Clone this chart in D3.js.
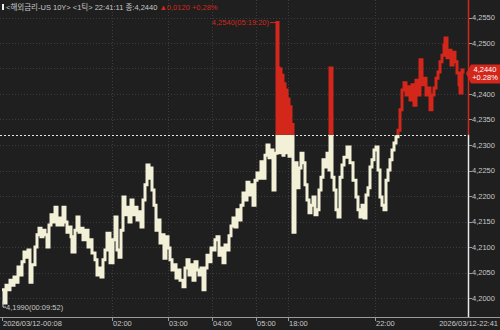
<!DOCTYPE html>
<html>
<head>
<meta charset="utf-8">
<script src="https://cdn.jsdelivr.net/npm/d3@7"></script>
<style>
  html, body { margin: 0; padding: 0; background: #1f1f1f; }
  svg { display: block; font-family: "Liberation Sans", "Noto Sans CJK KR", sans-serif; }
</style>
</head>
<body>
<div id="chart"></div>
<script>
// US 10Y yield, 1-tick chart (bar index along an index-based time axis)
const bars = [
  0, 2, 4, 6, 8, 10, 12, 14, 16, 18, 20, 22, 24, 26, 28, 30, 33, 35, 37, 39,
  41, 43, 45, 47, 49, 51, 53, 55, 57, 59, 61, 63, 65, 67, 69, 70, 73, 75, 77, 79,
  81, 83, 86, 88, 90, 93, 95, 97, 99, 101, 103, 105, 108, 111, 113, 115, 117, 119, 121, 123,
  125, 127, 129, 131, 133, 135, 137, 139, 141, 143, 145, 147, 149, 150, 152, 154, 156, 158, 160, 162,
  164, 166, 168, 170, 172, 174, 176, 178, 181, 183, 185, 187, 189, 191, 193, 195, 197, 199, 201, 203,
  205, 207, 209, 211, 213, 215, 217, 219, 221, 223, 225, 227, 229, 231, 233, 235, 237, 239, 241, 243,
  245, 247, 249, 251, 253, 255, 257, 259, 261, 263, 265, 267, 269, 271, 273, 275, 276, 277, 278, 279,
  280, 281, 282, 283, 284, 285, 286, 287, 288, 289, 290, 291, 293, 295, 297, 299, 301, 303, 305, 307,
  309, 311, 313, 315, 317, 319, 321, 323, 325, 327, 328, 330, 332, 334, 336, 338, 340, 342, 345, 348,
  351, 354, 356, 358, 360, 362, 364, 366, 368, 370, 372, 374, 376, 378, 380, 382, 384, 386, 388, 390,
  392, 394, 396, 398, 400, 402, 404, 406, 408, 410, 412, 414, 416, 418, 420, 422, 424, 426, 428, 430,
  432, 434, 436, 438, 440, 442, 443, 445, 447, 449, 451, 453, 455, 457, 458, 460, 461
];
const prices = [
  4.2016, 4.1990, 4.2025, 4.2016, 4.2035, 4.2025, 4.2041, 4.2031, 4.2061, 4.2045, 4.2071, 4.2090, 4.2080, 4.2094, 4.2031, 4.2065, 4.2100, 4.2124, 4.2137, 4.2120,
  4.2133, 4.2124, 4.2100, 4.2143, 4.2163, 4.2149, 4.2178, 4.2143, 4.2157, 4.2143, 4.2178, 4.2149, 4.2129, 4.2139, 4.2120, 4.2090, 4.2133, 4.2159, 4.2129, 4.2137,
  4.2114, 4.2133, 4.2100, 4.2114, 4.2088, 4.2075, 4.2045, 4.2059, 4.2041, 4.2075, 4.2094, 4.2127, 4.2069, 4.2114, 4.2159, 4.2094, 4.2080, 4.2133, 4.2198, 4.2163,
  4.2178, 4.2149, 4.2192, 4.2163, 4.2178, 4.2153, 4.2169, 4.2139, 4.2192, 4.2222, 4.2261, 4.2235, 4.2255, 4.2212, 4.2182, 4.2133, 4.2153, 4.2108, 4.2124, 4.2078,
  4.2120, 4.2098, 4.2075, 4.2055, 4.2065, 4.2039, 4.2055, 4.2035, 4.2022, 4.2059, 4.2075, 4.2045, 4.2065, 4.2035, 4.2071, 4.2055, 4.2045, 4.2059, 4.2016, 4.2059,
  4.2084, 4.2071, 4.2098, 4.2094, 4.2114, 4.2120, 4.2084, 4.2098, 4.2069, 4.2104, 4.2094, 4.2122, 4.2141, 4.2157, 4.2139, 4.2173, 4.2153, 4.2182, 4.2206, 4.2192,
  4.2227, 4.2202, 4.2222, 4.2182, 4.2231, 4.2245, 4.2235, 4.2267, 4.2235, 4.2280, 4.2300, 4.2275, 4.2290, 4.2212, 4.2284, 4.2540, 4.2451, 4.2285, 4.2449, 4.2290,
  4.2437, 4.2280, 4.2420, 4.2290, 4.2408, 4.2285, 4.2390, 4.2278, 4.2375, 4.2290, 4.2340, 4.2129, 4.2265, 4.2216, 4.2255, 4.2284, 4.2265, 4.2222, 4.2192, 4.2167,
  4.2182, 4.2198, 4.2163, 4.2173, 4.2212, 4.2237, 4.2271, 4.2257, 4.2284, 4.2251, 4.2451, 4.2237, 4.2212, 4.2173, 4.2159, 4.2237, 4.2261, 4.2276, 4.2296, 4.2265,
  4.2231, 4.2198, 4.2173, 4.2159, 4.2182, 4.2157, 4.2202, 4.2216, 4.2257, 4.2271, 4.2290, 4.2296, 4.2251, 4.2198, 4.2182, 4.2173, 4.2231, 4.2251, 4.2271, 4.2290,
  4.2304, 4.2316, 4.2329, 4.2369, 4.2408, 4.2422, 4.2398, 4.2414, 4.2388, 4.2418, 4.2378, 4.2427, 4.2398, 4.2467, 4.2418, 4.2431, 4.2398, 4.2412, 4.2369, 4.2398,
  4.2412, 4.2431, 4.2443, 4.2463, 4.2476, 4.2496, 4.2510, 4.2471, 4.2486, 4.2457, 4.2482, 4.2463, 4.2441, 4.2418, 4.2402, 4.2447, 4.2440
];

const prevClose = 4.2320;
const lastPrice = 4.2440;
const yTicks = [4.2000, 4.2050, 4.2100, 4.2150, 4.2200, 4.2250, 4.2300, 4.2350, 4.2400, 4.2450, 4.2500, 4.2550];
const xTickBars = [0, 110, 166, 210, 254, 286, 373];
const xTickLabels = ["2026/03/12-00:08", "02:00", "03:00", "04:00", "05:00", "18:00", "22:00"];
const lastTimeLabel = "2026/03/12-22:41";
const highLabel = "4,2540(05:19:20)";
const lowLabel = "4,1990(00:09:52)";

const W = 500, H = 330;
const axisX = 468, axisY = 317;
const RED = "#d3271c", CREAM = "#f3f0d8", TXT = "#c8c8c8";
const fmt = v => d3.format(".4f")(v).replace(".", ",");

const svg = d3.select("#chart").append("svg")
  .attr("width", W).attr("height", H);

svg.append("rect").attr("width", W).attr("height", H).attr("fill", "#1f1f1f");

const x = d3.scaleLinear().domain([0, 461]).range([2, 463]);
const y = d3.scaleLinear().domain([4.2000, 4.2550]).range([298, 17.5]);
const yBase = y(prevClose);

// grid
svg.append("g").selectAll("line").data(yTicks).join("line")
  .attr("x1", 0).attr("x2", axisX)
  .attr("y1", d => Math.round(y(d)) + 0.5).attr("y2", d => Math.round(y(d)) + 0.5)
  .attr("stroke", "#3c3c3c").attr("stroke-dasharray", "1,2");

svg.append("g").selectAll("line").data(xTickBars.slice(1)).join("line")
  .attr("x1", d => Math.round(x(d)) + 0.5).attr("x2", d => Math.round(x(d)) + 0.5)
  .attr("y1", 0).attr("y2", axisY)
  .attr("stroke", "#3c3c3c").attr("stroke-dasharray", "1,2");

// previous close line
svg.append("line")
  .attr("x1", 0).attr("x2", axisX)
  .attr("y1", Math.round(yBase) + 0.5).attr("y2", Math.round(yBase) + 0.5)
  .attr("stroke", "#e8e8e8").attr("stroke-dasharray", "2,2");

// clips above / below prev close
const defs = svg.append("defs");
defs.append("clipPath").attr("id", "above").append("rect")
  .attr("x", 0).attr("y", 0).attr("width", axisX).attr("height", yBase);
defs.append("clipPath").attr("id", "below").append("rect")
  .attr("x", 0).attr("y", yBase).attr("width", axisX).attr("height", axisY - yBase);

const data = bars.map((b, i) => ({ b, v: prices[i] }));
const line = d3.line().x(d => x(d.b)).y(d => y(d.v)).curve(d3.curveStepAfter);

svg.append("path").datum(data).attr("d", line)
  .attr("clip-path", "url(#below)")
  .attr("fill", "none").attr("stroke", CREAM).attr("stroke-width", 3);
svg.append("path").datum(data).attr("d", line)
  .attr("clip-path", "url(#above)")
  .attr("fill", "none").attr("stroke", RED).attr("stroke-width", 3);

// right axis line, red above prev close
svg.append("line").attr("x1", axisX + 0.5).attr("x2", axisX + 0.5)
  .attr("y1", 0).attr("y2", yBase).attr("stroke", RED).attr("stroke-width", 1.5);
svg.append("line").attr("x1", axisX + 0.5).attr("x2", axisX + 0.5)
  .attr("y1", yBase).attr("y2", axisY).attr("stroke", "#e8e8e8").attr("stroke-width", 1.5);

const yt = svg.append("g");
yt.selectAll("line").data(yTicks).join("line")
  .attr("x1", axisX + 1).attr("x2", axisX + 4)
  .attr("y1", d => Math.round(y(d)) + 0.5).attr("y2", d => Math.round(y(d)) + 0.5)
  .attr("stroke", "#999");
yt.selectAll("text").data(yTicks.filter(d => Math.abs(d - lastPrice) > 0.002)).join("text")
  .attr("x", axisX + 4).attr("y", d => y(d) + 2.5)
  .attr("fill", TXT).attr("font-size", 7.5)
  .text(d => fmt(d));

// last price tag
const yl = y(lastPrice);
svg.append("path")
  .attr("d", `M${axisX - 2},${yl} L${axisX + 3},${yl - 9} L${W},${yl - 9} L${W},${yl + 10} L${axisX + 3},${yl + 10} Z`)
  .attr("fill", RED);
svg.append("text").attr("x", 485).attr("y", yl - 1.5).attr("text-anchor", "middle")
  .attr("fill", "#fff").attr("font-size", 7.5).text(fmt(lastPrice));
svg.append("text").attr("x", 485).attr("y", yl + 6.5).attr("text-anchor", "middle")
  .attr("fill", "#fff").attr("font-size", 7.5).text("+0.28%");

// bottom axis
svg.append("line").attr("x1", 0).attr("x2", W)
  .attr("y1", axisY + 0.5).attr("y2", axisY + 0.5).attr("stroke", "#9a9a9a");
const xt = svg.append("g");
xt.selectAll("line").data(xTickBars).join("line")
  .attr("x1", d => Math.round(x(d)) + 0.5).attr("x2", d => Math.round(x(d)) + 0.5)
  .attr("y1", axisY).attr("y2", axisY + 4).attr("stroke", "#9a9a9a");
xt.selectAll("text").data(xTickBars).join("text")
  .attr("x", d => x(d) + 1).attr("y", 326)
  .attr("fill", TXT).attr("font-size", 7.5)
  .text((d, i) => xTickLabels[i]);
svg.append("text").attr("x", 498).attr("y", 326).attr("text-anchor", "end")
  .attr("fill", TXT).attr("font-size", 7.5).text(lastTimeLabel);

// high / low annotations
const hi = d3.maxIndex(prices), lo = d3.minIndex(prices);
const hx = x(bars[hi]), hy = y(prices[hi]);
svg.append("path").attr("d", `M${hx - 7},${hy} H${hx} V${hy + 4}`)
  .attr("fill", "none").attr("stroke", RED);
svg.append("text").attr("x", hx - 8).attr("y", hy + 2.5).attr("text-anchor", "end")
  .attr("fill", RED).attr("font-size", 7.5).text(highLabel);

const lx = x(bars[lo]), ly = y(prices[lo]);
svg.append("path").attr("d", `M${lx - 1},${ly - 2} V${ly + 4} H${lx + 2}`)
  .attr("fill", "none").attr("stroke", TXT);
svg.append("text").attr("x", lx + 2).attr("y", ly + 7)
  .attr("fill", TXT).attr("font-size", 7.5).text(lowLabel);

// header
svg.append("rect").attr("x", 2).attr("y", 4).attr("width", 2).attr("height", 6).attr("fill", "#eee");
const head = svg.append("text").attr("x", 6).attr("y", 10).attr("font-size", 7.5);
head.append("tspan").attr("fill", TXT).text("<해외금리-US 10Y> <1틱> 22:41:11 종:4,2440 ");
head.append("tspan").attr("fill", RED).text("▲0,0120 +0,28%");
</script>
</body>
</html>
